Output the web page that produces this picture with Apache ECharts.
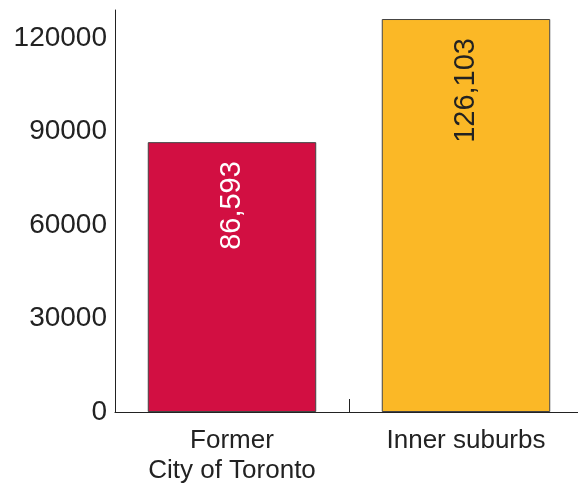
<!DOCTYPE html>
<html><head><meta charset="utf-8">
<script src="https://cdn.jsdelivr.net/npm/echarts@6/dist/echarts.min.js"></script>
<style>html,body{margin:0;padding:0;background:#fff}#c{width:578px;height:485px}</style>
</head><body><div id="c"></div>
<script>
const categories = ['Former\nCity of Toronto', 'Inner suburbs'];
const values = [86593, 126103];
const barColors = ['#D20F42', '#FBB826'];
const labelColors = ['#ffffff', '#222222'];
const yTicks = [0, 30000, 60000, 90000, 120000];

const chart = echarts.init(document.getElementById('c'), null, {renderer: 'canvas'});
chart.setOption({
  animation: false,
  grid: {left: 115, width: 468, top: 10, bottom: 73, outerBoundsMode: 'none', containLabel: false},
  xAxis: {
    type: 'category', data: categories,
    axisLine: {lineStyle: {color: '#222', width: 1}},
    axisTick: {show: true, inside: true, length: 13, lineStyle: {color: '#222'}},
    axisLabel: {fontFamily: 'Liberation Sans', fontSize: 26, color: '#222', lineHeight: 30, margin: 14}
  },
  yAxis: {
    type: 'value', min: 0, max: 129000, interval: 30000,
    splitLine: {show: false},
    axisLine: {show: true, lineStyle: {color: '#222', width: 1}},
    axisTick: {show: false},
    axisLabel: {fontFamily: 'Liberation Sans', fontSize: 28, color: '#222', margin: 8,
      formatter: v => yTicks.includes(v) ? String(v) : ''}
  },
  series: [{
    type: 'bar', barWidth: '72%',
    data: values.map((v, i) => ({
      value: v,
      itemStyle: {color: barColors[i], borderColor: '#444', borderWidth: 1},
      label: {show: true, color: labelColors[i]}
    })),
    label: {
      show: true, position: 'insideTop', distance: 19, rotate: 90,
      align: 'right', verticalAlign: 'middle',
      fontFamily: 'Liberation Sans', fontSize: 29,
      formatter: p => p.value.toLocaleString('en-US')
    }
  }]
});
</script></body></html>
